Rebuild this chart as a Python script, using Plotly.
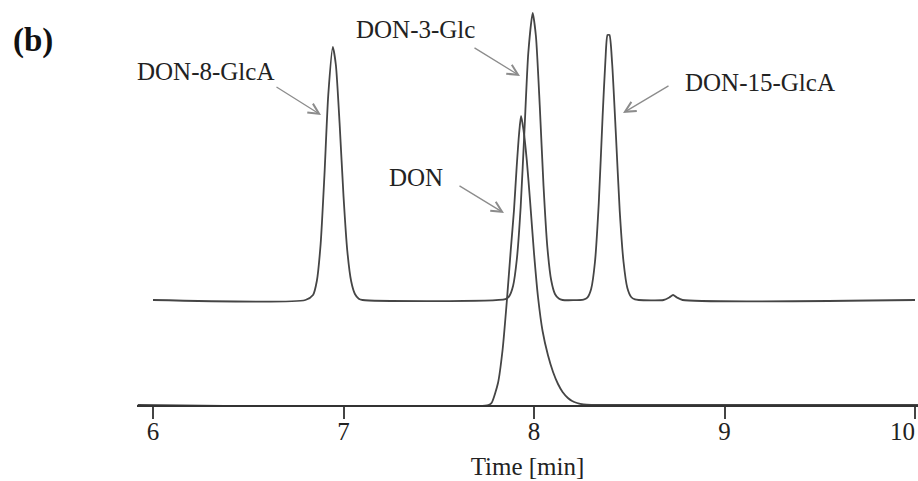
import plotly.graph_objects as go

# ---- data ----
# upper trace (DON-8-GlcA, DON-3-Glc, DON-15-GlcA), time [min] and relative intensity
upper_time = [6.00, 6.80, 6.84, 6.86, 6.88, 6.90, 6.92, 6.944, 6.96, 6.98, 7.00, 7.02, 7.04, 7.06, 7.08, 7.10,
              7.85, 7.87, 7.89, 7.91, 7.93, 7.95, 7.97, 7.993, 8.01, 8.03, 8.05, 8.07, 8.09, 8.11, 8.13, 8.15,
              8.26, 8.28, 8.30, 8.32, 8.34, 8.36, 8.375, 8.386, 8.396, 8.41, 8.43, 8.45, 8.47, 8.49, 8.51, 8.53, 8.55,
              8.68, 8.71, 8.73, 8.75, 8.78, 10.00]
upper_int = [0, 0, 5, 19, 56, 125, 205, 253, 235, 175, 104, 49, 19, 6, 1.3, 0,
             0.9, 3.9, 14, 41, 93, 170, 247, 287, 264, 195, 114, 53, 20, 6, 1.4, 0,
             0.4, 2.3, 11, 38, 97, 183, 240, 265, 265, 237, 165, 89, 38, 12, 3, 0.6, 0,
             0, 2.5, 5, 2.5, 0, 0]

# lower trace (DON)
lower_time = [5.92, 7.76, 7.778, 7.811, 7.835, 7.857, 7.878, 7.895, 7.909, 7.922, 7.932, 7.945, 7.962, 7.979,
              8.00, 8.021, 8.045, 8.073, 8.10, 8.126, 8.15, 8.178, 8.20, 8.226, 8.26, 8.30, 10.02]
lower_int = [0, 0, 2.3, 22, 55, 103, 155, 195, 238, 272, 289, 275, 245, 205,
             152, 108, 74, 50, 33, 21, 13, 7, 4, 2, 0.5, 0, 0]

tick_vals = [6, 7, 8, 9, 10]
tick_text = ["6", "7", "8", "9", "10"]
peak_labels = ["DON-8-GlcA", "DON-3-Glc", "DON", "DON-15-GlcA"]
panel_label = "(b)"
x_title = "Time [min]"

# ---- layout constants (pixels) ----
W, H = 918, 481
ML, MR, MT, MB = 137, 0, 0, 76
PX_PER_MIN = 190.5
X0 = 5.916
UPPER_OFFSET = 105
PLOT_W = W - ML - MR
PLOT_H = H - MB - MT

def px2t(px):
    return X0 + (px - ML) / PX_PER_MIN

def py2y(py):
    return (H - MB) - py

LINE_COLOR = "#454545"
FONT = "Liberation Serif"
TEXT_COLOR = "#222222"

fig = go.Figure()
fig.add_trace(go.Scatter(x=lower_time, y=lower_int, mode="lines",
                         line=dict(color=LINE_COLOR, width=1.8, shape="spline", smoothing=0.6),
                         hoverinfo="skip", showlegend=False))
fig.add_trace(go.Scatter(x=upper_time, y=[v + UPPER_OFFSET for v in upper_int], mode="lines",
                         line=dict(color=LINE_COLOR, width=1.8, shape="spline", smoothing=0.6),
                         hoverinfo="skip", showlegend=False))

# label centers and arrows (tail -> tip) in pixels
label_pos = [(205.5, 71.5), (415, 29), (416, 177), (760, 82)]
arrows = [((275, 86), (321, 115)), ((473, 47), (520, 76)),
          ((458, 185), (504, 213)), ((670, 85), (623, 113))]

annotations = []
for text, (cx, cy) in zip(peak_labels, label_pos):
    annotations.append(dict(x=px2t(cx), y=py2y(cy), xref="x", yref="y", text=text, showarrow=False,
                            font=dict(family=FONT, size=25, color=TEXT_COLOR),
                            xanchor="center", yanchor="middle"))
for (tail, tip) in arrows:
    annotations.append(dict(x=px2t(tip[0]), y=py2y(tip[1]), xref="x", yref="y", text="",
                            showarrow=True, ax=tail[0] - tip[0], ay=tail[1] - tip[1],
                            axref="pixel", ayref="pixel",
                            arrowhead=5, arrowsize=1.6, arrowwidth=1.3, arrowcolor="#8c8c8c",
                            standoff=0, startstandoff=0))
annotations.append(dict(x=(33 - ML) / PLOT_W, y=(PLOT_H - 41) / PLOT_H, xref="paper", yref="paper",
                        text="<b>" + panel_label + "</b>", showarrow=False,
                        font=dict(family=FONT, size=33, color="#111111"),
                        xanchor="center", yanchor="middle"))

# last tick label sits at the right edge: right-align it so it stays inside the picture
axis_ticktext = tick_text[:-1] + [""]
annotations.append(dict(x=1.0, y=(PLOT_H - 431) / PLOT_H, xref="paper", yref="paper",
                        text=tick_text[-1], showarrow=False,
                        font=dict(family=FONT, size=25, color=TEXT_COLOR),
                        xanchor="right", yanchor="middle", xshift=-1))

fig.update_layout(
    width=W, height=H,
    margin=dict(l=ML, r=MR, t=MT, b=MB, pad=0, autoexpand=False),
    paper_bgcolor="white", plot_bgcolor="white",
    annotations=annotations,
    xaxis=dict(range=[X0, X0 + PLOT_W / PX_PER_MIN], tickvals=tick_vals, ticktext=axis_ticktext,
               ticks="outside", ticklen=12, tickwidth=1.5, tickcolor="#444444",
               showline=True, linecolor="#333333", linewidth=2, showgrid=False, zeroline=False,
               automargin=False, ticklabeloverflow="allow", ticklabelstandoff=-9,
               tickfont=dict(family=FONT, size=25, color=TEXT_COLOR),
               title=dict(text=x_title, font=dict(family=FONT, size=25, color=TEXT_COLOR), standoff=13)),
    yaxis=dict(visible=False, range=[0, PLOT_H], fixedrange=True, automargin=False),
)

fig.write_html("out.html")
